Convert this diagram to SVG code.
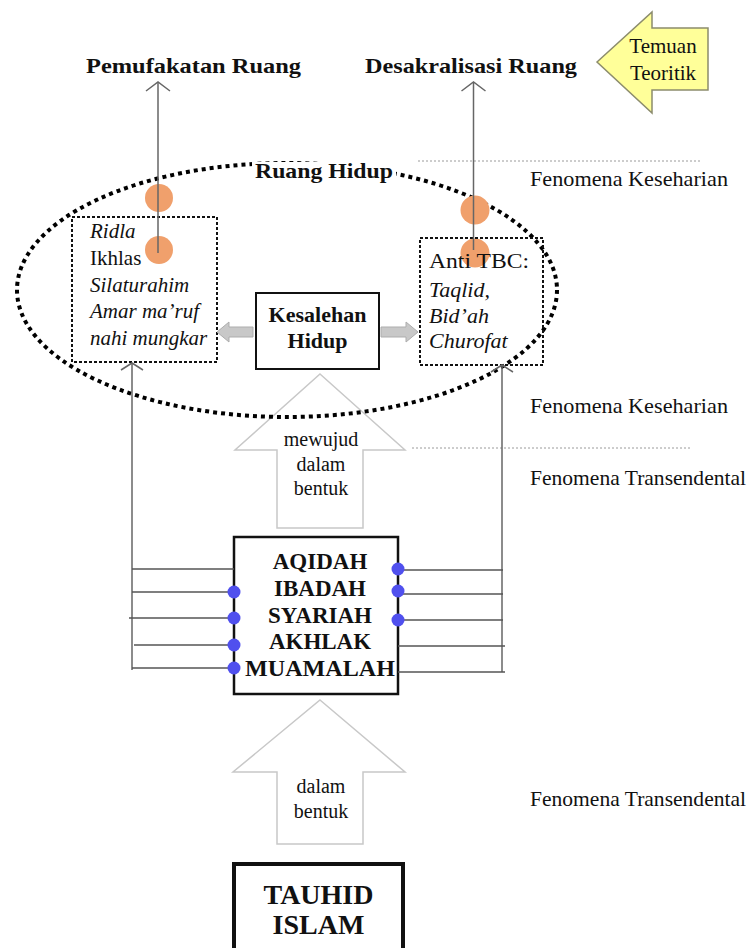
<svg xmlns="http://www.w3.org/2000/svg" width="755" height="948" viewBox="0 0 755 948" font-family="'Liberation Serif', 'DejaVu Serif', serif">
<style>
text{font-family:'Liberation Serif','DejaVu Serif',serif;fill:#111;}
.b{font-weight:bold;}
.i{font-style:italic;}
.c{text-anchor:middle;}
.ln{stroke:#666;stroke-width:1.5;fill:none;}
.chev{stroke:#666;stroke-width:1.5;fill:none;}
.hl{stroke:#555;stroke-width:1.3;fill:none;}
.dot{fill:#5050EE;}
.org{fill:#F0A06C;}
.dbox{fill:none;stroke:#111;stroke-width:2;stroke-dasharray:3 2;}
.hollow{fill:#fff;stroke:#C8C8C8;stroke-width:1.5;}
.garrow{fill:#C8C8C8;stroke:#ADADAD;stroke-width:1;}
.sep{stroke:#9A9A9A;stroke-width:1;stroke-dasharray:2 2;fill:none;}
</style>

<g id="labels-top">
<text class="b" x="86" y="73" font-size="22" textLength="215" lengthAdjust="spacingAndGlyphs">Pemufakatan Ruang</text>
<text class="b" x="365" y="73" font-size="22" textLength="212" lengthAdjust="spacingAndGlyphs">Desakralisasi Ruang</text>
</g>

<g id="temuan-teoritik">
<polygon points="597,62 652,12 652,28 708,28 708,90 652,90 652,113" fill="#FFFF99" stroke="#8C8C6C" stroke-width="1.5"/>
<text class="c" x="663" y="53" font-size="21">Temuan</text>
<text class="c" x="663" y="80" font-size="21">Teoritik</text>
</g>

<g id="separators">
<line class="sep" x1="418" y1="161" x2="700" y2="161"/>
<line class="sep" x1="412" y1="448" x2="690" y2="448"/>
</g>

<g id="fenomena-labels">
<text x="530" y="186" font-size="21" textLength="198" lengthAdjust="spacingAndGlyphs">Fenomena Keseharian</text>
<text x="530" y="413" font-size="21" textLength="198" lengthAdjust="spacingAndGlyphs">Fenomena Keseharian</text>
<text x="530" y="485" font-size="21" textLength="216" lengthAdjust="spacingAndGlyphs">Fenomena Transendental</text>
<text x="530" y="806" font-size="21" textLength="216" lengthAdjust="spacingAndGlyphs">Fenomena Transendental</text>
</g>

<g id="arrow-mewujud">
<polygon class="hollow" points="320,374 405,450 363,450 363,528 277,528 277,450 235,450"/>
<text class="c" x="321" y="446" font-size="20">mewujud</text>
<text class="c" x="321" y="471" font-size="20">dalam</text>
<text class="c" x="321" y="495" font-size="20">bentuk</text>
</g>

<g id="arrow-dalam-bentuk">
<polygon class="hollow" points="320,700 405,772 363,772 363,844 277,844 277,772 233,772"/>
<text class="c" x="321" y="793" font-size="20">dalam</text>
<text class="c" x="321" y="818" font-size="20">bentuk</text>
</g>

<g id="ruang-hidup">
<ellipse cx="287" cy="290" rx="270" ry="127" fill="none" stroke="#000" stroke-width="4" stroke-dasharray="4 4"/>
<rect x="252" y="162" width="144" height="20" fill="#fff"/>
<text class="b" x="255" y="178" font-size="22" textLength="138" lengthAdjust="spacingAndGlyphs">Ruang Hidup</text>
</g>

<g id="markers">
<circle class="org" cx="159" cy="198" r="14"/>
<circle class="org" cx="159" cy="250" r="14"/>
<circle class="org" cx="475" cy="210" r="14.5"/>
<circle class="org" cx="475" cy="253" r="14.5"/>
</g>

<g id="nilai-box">
<rect class="dbox" x="72" y="217" width="145" height="145"/>
<text class="i" x="90" y="238" font-size="21">Ridla</text>
<text x="90" y="265" font-size="21">Ikhlas</text>
<text class="i" x="90" y="292" font-size="21">Silaturahim</text>
<text class="i" x="90" y="318" font-size="21">Amar ma’ruf</text>
<text class="i" x="90" y="345" font-size="21">nahi mungkar</text>
</g>

<g id="anti-tbc-box">
<rect class="dbox" x="420" y="238" width="123" height="127"/>
<text x="429" y="268" font-size="22" textLength="100" lengthAdjust="spacingAndGlyphs">Anti TBC:</text>
<text class="i" x="429" y="297" font-size="22">Taqlid,</text>
<text class="i" x="429" y="323" font-size="22">Bid’ah</text>
<text class="i" x="429" y="348" font-size="22">Churofat</text>
</g>

<g id="kesalehan-hidup">
<rect x="256" y="293" width="123" height="76" fill="#fff" stroke="#111" stroke-width="2"/>
<text class="b c" x="317.5" y="322" font-size="22">Kesalehan</text>
<text class="b c" x="317.5" y="348" font-size="22">Hidup</text>
</g>

<g id="pilar-box">
<rect x="234" y="537" width="164" height="157" fill="#fff" stroke="#111" stroke-width="2.5"/>
<text class="b c" x="320" y="569" font-size="23">AQIDAH</text>
<text class="b c" x="320" y="596" font-size="23">IBADAH</text>
<text class="b c" x="320" y="623" font-size="23">SYARIAH</text>
<text class="b c" x="320" y="649" font-size="23">AKHLAK</text>
<text class="b c" x="320" y="676" font-size="23" textLength="150" lengthAdjust="spacingAndGlyphs">MUAMALAH</text>
</g>

<g id="tauhid-islam">
<rect x="234" y="864" width="169" height="110" fill="#fff" stroke="#111" stroke-width="4"/>
<text class="b c" x="318.5" y="904" font-size="28">TAUHID</text>
<text class="b c" x="318.5" y="934" font-size="28">ISLAM</text>
</g>

<g id="connectors">
<polygon class="garrow" points="253,327 229,327 229,322 217,332 229,342 229,337 253,337"/>
<polygon class="garrow" points="381,327 406,327 406,322 418,332 406,342 406,337 381,337"/>
<line class="ln" x1="158" y1="82" x2="158" y2="253"/>
<polyline class="chev" points="146,91 158,82 170,91"/>
<line class="ln" x1="473.5" y1="82" x2="473.5" y2="250"/>
<polyline class="chev" points="461.5,91 473.5,82 485.5,91"/>
<line class="ln" x1="132" y1="363" x2="132" y2="670"/>
<polyline class="chev" points="121,370 132,363 143,370"/>
<line class="ln" x1="502" y1="365" x2="502" y2="672"/>
<polyline class="chev" points="491,372 502,365 513,372"/>
<line class="hl" x1="132" y1="569" x2="234" y2="569"/>
<line class="hl" x1="132" y1="592" x2="234" y2="592"/>
<line class="hl" x1="129" y1="618" x2="234" y2="618"/>
<line class="hl" x1="134" y1="645" x2="234" y2="645"/>
<line class="hl" x1="132" y1="668" x2="234" y2="668"/>
<line class="hl" x1="398" y1="570" x2="503" y2="570"/>
<line class="hl" x1="398" y1="594" x2="503" y2="594"/>
<line class="hl" x1="398" y1="620" x2="503" y2="620"/>
<line class="hl" x1="398" y1="646" x2="505" y2="646"/>
<line class="hl" x1="398" y1="672" x2="505" y2="672"/>
<circle class="dot" cx="234" cy="592" r="6.5"/>
<circle class="dot" cx="234" cy="618" r="6.5"/>
<circle class="dot" cx="234" cy="645" r="6.5"/>
<circle class="dot" cx="234" cy="668" r="6.5"/>
<circle class="dot" cx="398" cy="569" r="6.5"/>
<circle class="dot" cx="398" cy="591" r="6.5"/>
<circle class="dot" cx="398" cy="620" r="6.5"/>
</g>
</svg>
